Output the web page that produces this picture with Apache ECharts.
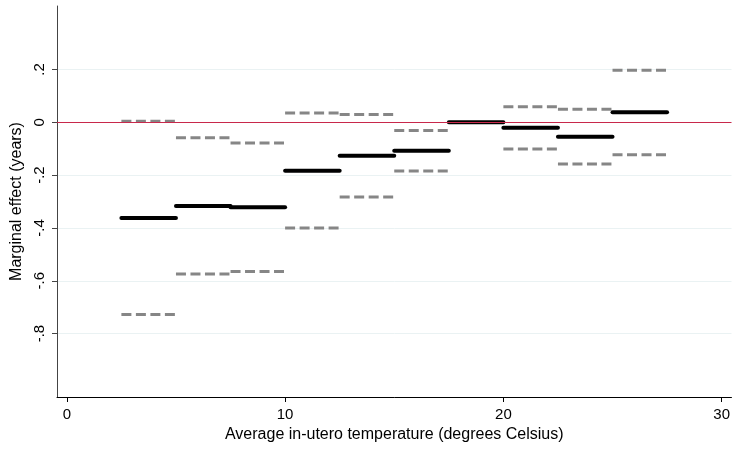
<!DOCTYPE html>
<html>
<head>
<meta charset="utf-8">
<script src="https://cdn.jsdelivr.net/npm/echarts@6/dist/echarts.min.js"></script>
<style>
  html, body { margin: 0; padding: 0; background: #fff; }
  #chart { width: 733px; height: 449px; }
</style>
</head>
<body>
<div id="chart"></div>
<script>
// Temperature bins (degrees Celsius)
const binStart = [2.5, 5, 7.5, 10, 12.5, 15, 17.5, 20, 22.5, 25];
const binEnd   = [5, 7.5, 10, 12.5, 15, 17.5, 20, 22.5, 25, 27.5];
// Point estimates and 95% confidence bounds (years); 17.5-20 is the omitted bin
const estimate = [-0.362, -0.317, -0.322, -0.184, -0.127, -0.108, 0.000, -0.021, -0.055, 0.038];
const upper    = [0.004, -0.059, -0.079, 0.035, 0.029, -0.031, null, 0.059, 0.049, 0.197];
const lower    = [-0.728, -0.574, -0.565, -0.400, -0.283, -0.185, null, -0.101, -0.158, -0.123];
// Axis ticks
const xTicks = [0, 10, 20, 30];
const yTicks = [-0.8, -0.6, -0.4, -0.2, 0, 0.2];

const FONT = 'Liberation Sans, Arial, Helvetica, sans-serif';

function fmtY(v) {
  if (Math.abs(v) < 1e-9) return '0';
  const s = (Math.round(v * 10) / 10).toString();
  return s.replace(/^(-?)0\./, '$1.');
}

function segment(vals, i, style) {
  return {
    type: 'line',
    silent: true,
    showSymbol: false,
    animation: false,
    z: style.z,
    lineStyle: style.line,
    data: [[binStart[i], vals[i]], [binEnd[i], vals[i]]]
  };
}

const series = [];
// Zero reference line
series.push({
  type: 'line',
  data: [],
  silent: true,
  animation: false,
  markLine: {
    silent: true,
    symbol: 'none',
    label: { show: false },
    lineStyle: { color: '#c8284b', width: 1.2, type: 'solid' },
    data: [{ yAxis: 0 }]
  }
});
const ciStyle = { z: 3, line: { color: '#868686', width: 3, type: [10, 4.5], cap: 'butt' } };
const estStyle = { z: 4, line: { color: '#000', width: 4, type: 'solid', cap: 'round' } };
for (let i = 0; i < binStart.length; i++) {
  if (upper[i] !== null) series.push(segment(upper, i, ciStyle));
  if (lower[i] !== null) series.push(segment(lower, i, ciStyle));
  series.push(segment(estimate, i, estStyle));
}

const chart = echarts.init(document.getElementById('chart'), null, { renderer: 'canvas' });
chart.setOption({
  animation: false,
  backgroundColor: '#fff',
  grid: { left: 57, right: 1, top: 6, bottom: 52, containLabel: false },
  xAxis: {
    type: 'value',
    min: -0.45,
    max: 30.45,
    name: 'Average in-utero temperature (degrees Celsius)',
    nameLocation: 'middle',
    nameGap: 29,
    nameTextStyle: { fontFamily: FONT, fontSize: 16, color: '#000' },
    axisLine: { show: true, onZero: false, lineStyle: { color: '#000', width: 1 } },
    axisTick: { show: true, length: 5, customValues: xTicks, lineStyle: { color: '#000' } },
    axisLabel: { customValues: xTicks, margin: 10, fontFamily: FONT, fontSize: 15, color: '#000' },
    splitLine: { show: false }
  },
  yAxis: {
    type: 'value',
    min: -1.04,
    max: 0.44,
    name: 'Marginal effect (years)',
    nameLocation: 'middle',
    nameGap: 26,
    nameRotate: 90,
    nameTextStyle: { fontFamily: FONT, fontSize: 16, color: '#000' },
    axisLine: { show: true, onZero: false, lineStyle: { color: '#444', width: 1 } },
    axisTick: { show: true, length: 5, customValues: yTicks, lineStyle: { color: '#444' } },
    axisLabel: { customValues: yTicks, rotate: 90, margin: 10, fontFamily: FONT, fontSize: 15, color: '#000', formatter: fmtY },
    splitLine: { show: true, lineStyle: { color: '#eaf2f3', width: 1 } }
  },
  series: series
});
</script>
</body>
</html>
